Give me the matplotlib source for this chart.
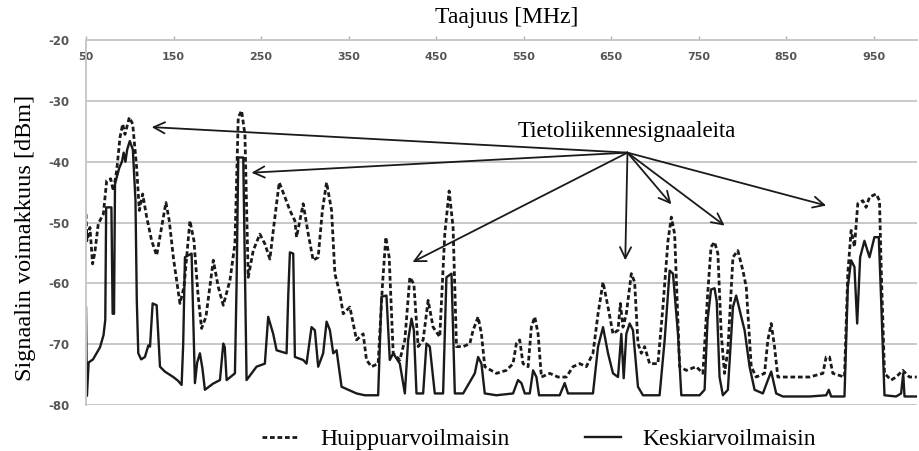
import numpy as np
import matplotlib
matplotlib.use("Agg")
import matplotlib.pyplot as plt

# Huippuarvoilmaisin (peak detector), dashed trace
f_peak = [50, 51, 54.5, 57.5, 60, 64, 69.8, 73.6, 78.2, 81.2, 85, 88.8, 91.9, 94.5, 99.5,
          103.3, 107.8, 110.9, 114.7, 119.3, 125, 130.7, 136, 141.3, 145.1, 150, 157.3,
          161.9, 168.7, 173.3, 178, 182, 187, 195.4, 201.1, 206.8, 214.4, 220.1, 223.9,
          227.7, 231.5, 235.3, 241, 248.6, 254.3, 260, 265, 270.7, 277.2, 282.9, 288.6,
          290.5, 298.1, 304, 309.5, 315.2, 320, 324.8, 330.5, 334.3, 340, 343.8, 351.4,
          359, 366.6, 370.4, 376.1, 383.7, 388.7, 392.5, 396.3, 400.9, 408.5, 414.2,
          419.9, 424.5, 429.4, 435.1, 440.8, 446.5, 454.1, 459.8, 464.8, 469.3, 473.2,
          480.8, 488.4, 492.2, 497.9, 501.7, 505.5, 518.8, 530.2, 537.8, 541.6, 545.4,
          549.2, 555, 558.7, 562.6, 566.4, 570.2, 579.7, 589.2, 598.7, 606.3, 614, 621.5,
          629.1, 634.9, 640.6, 646.3, 652, 657.7, 660.4, 663.4, 667.2, 672.9, 676.7,
          680.5, 684.3, 688.1, 693.8, 703.3, 709, 714.8, 718.6, 722.4, 728.1, 735.7,
          747.1, 754.7, 760, 764, 768, 771.8, 775.6, 779.4, 783.2, 789, 794.6, 800.4,
          804.2, 809.9, 815.6, 825.1, 828.9, 832.7, 836.5, 840.3, 857.4, 876.5, 891.7,
          895.5, 899.3, 903.1, 916.4, 920.2, 924, 927.8, 931.6, 937.3, 941.1, 945, 952.6,
          956.4, 958.3, 962.1, 969.7, 975.4, 983, 990.6, 999]
db_peak = [-48.6, -53, -50.8, -56.8, -55, -50.2, -48.6, -43.1, -42.8, -44.8, -41.5, -36,
           -33.8, -35.5, -32.7, -33.8, -40.9, -48, -45.3, -49.1, -53, -55.4, -51, -46.7,
           -49.7, -56, -63.3, -60.6, -49.7, -53, -62, -67.4, -65.5, -56.2, -60.6, -63.6,
           -59.5, -53.5, -32.7, -31.6, -35.5, -59, -54.6, -51.9, -53.5, -56, -50, -43.4,
           -45.8, -48, -49.7, -52.4, -46.9, -52, -56.2, -55.7, -48, -43.4, -48, -58.4,
           -61.7, -65, -63.9, -69.3, -68.3, -72.6, -73.7, -73.2, -60.1, -52.4, -55.7,
           -71.5, -72.6, -69.3, -59, -60.1, -70.4, -69.3, -62.8, -67.2, -68.8, -51.9,
           -44.8, -50.8, -70.4, -70.4, -69.9, -67.7, -65.5, -68.3, -73.7, -74.8, -74.3,
           -73.2, -69.9, -69.3, -73.2, -73.7, -67.2, -65.5, -68.3, -75.4, -74.8, -75.4,
           -75.4, -73.7, -73.2, -73.7, -71.5, -65, -59.8, -63.9, -68.3, -67.7, -63.3,
           -67.2, -65, -58.4, -59.8, -69.9, -71.5, -70.4, -73.2, -73.2, -63.9, -53,
           -49.1, -51.9, -73.7, -74.3, -73.7, -74.8, -62, -54, -53.2, -55.1, -68.3,
           -74.8, -71, -55.7, -54.6, -57.9, -60.6, -73.7, -75.4, -74.8, -69.3, -66.6,
           -70.4, -75.4, -75.4, -75.4, -74.8, -72.1, -72.1, -74.8, -75.4, -58.4, -51.3,
           -54, -46.9, -46.4, -47.5, -45.8, -45.3, -46.4, -57.3, -74.8, -75.9, -75.4,
           -74.3, -75.4, -75.4]

# Keskiarvoilmaisin (average detector), solid trace
f_avg = [50, 51, 53, 58, 62, 66, 70, 72, 73, 79, 80.4, 82, 83.1, 85, 88, 91, 93, 95, 97,
         100, 103.5, 106.5, 108, 109.7, 113, 117.3, 121.2, 123.1, 126.1, 130.7, 134.5,
         140, 149.7, 155, 159.2, 161, 163, 170.6, 174.4, 177, 180.1, 183, 185.8, 195,
         203, 206.8, 208.5, 210.6, 220.1, 222, 223.9, 229.6, 231.5, 233.4, 244.8, 254.3,
         258.1, 263.8, 267.7, 279.1, 281, 282.9, 286.7, 288.6, 298.1, 301.9, 307.6,
         311.4, 315.2, 320.9, 324.8, 328.6, 332.4, 336.2, 341.9, 359, 368.5, 383.7,
         387.5, 393.2, 397, 400.9, 408.5, 414.2, 418, 421.8, 424.5, 427.5, 435.1, 438.9,
         442.7, 448.4, 457.9, 461.7, 467.5, 471.3, 480.8, 494.1, 497.9, 501.7, 505.5,
         518.8, 537.8, 543.5, 547.4, 551.2, 556.9, 560.7, 564.5, 567.5, 591.1, 596.8,
         600.6, 629.1, 634.9, 640.6, 646.3, 652, 657.7, 661.5, 664.2, 667.2, 671, 674.8,
         680.5, 686.2, 705.2, 711, 716.7, 720.5, 726.2, 730, 750.9, 756.6, 760, 764,
         768, 770.5, 773.7, 777.5, 783.2, 789, 792.7, 798.5, 802.3, 808, 813.7, 823.2,
         828.9, 832.7, 838.4, 846, 876.5, 895.5, 898.5, 901.2, 916.4, 920.2, 924, 927.8,
         930.9, 934.3, 939.2, 945, 950.6, 955.6, 958.3, 962.1, 975.4, 981.1, 983.5, 985,
         999]
db_avg = [-64, -78.5, -73, -72.5, -71.5, -70.5, -68.5, -66, -47.5, -47.5, -65, -65, -43.7,
          -42.6, -41, -40, -38.5, -40, -38, -36.6, -38, -46.4, -62.8, -71.5, -72.5, -72.1,
          -70.2, -70.4, -63.3, -63.6, -73.7, -74.5, -75.4, -76, -76.7, -70, -55.7, -55.1,
          -76.4, -73, -71.5, -74, -77.5, -76.5, -75.9, -69.9, -70.5, -75.9, -74.8, -60,
          -39.3, -39.3, -58, -75.9, -73.7, -73.2, -65.5, -68.3, -71, -71.5, -62, -54.9,
          -55.1, -72.1, -72.6, -73.2, -67.2, -67.7, -73.7, -71.5, -66.3, -67.7, -71.5,
          -71, -77, -78.1, -78.4, -78.4, -62.2, -62, -72.6, -71.5, -73.2, -78.1, -69.3,
          -65.8, -67.7, -78.1, -78.1, -69.9, -70.4, -78.1, -78.1, -59, -58.4, -78.1,
          -78.1, -74.8, -72.1, -73.2, -78.1, -78.4, -78.1, -75.9, -76.4, -78.1, -78.1,
          -74.3, -75.4, -78.4, -78.4, -76.4, -78.1, -78.1, -70.4, -67.2, -71.5, -74.8,
          -75.4, -68.3, -75.6, -68.3, -66.6, -67.7, -77, -78.4, -78.4, -69.3, -57.9,
          -58.4, -68.3, -78.4, -78.4, -77.5, -66, -61, -60.8, -63, -75.4, -78.4, -77.5,
          -63.9, -62, -65.5, -67.7, -73.7, -77.5, -78.1, -75.9, -74.5, -78.1, -78.6,
          -78.6, -78.4, -77.5, -78.6, -78.6, -60.6, -56.2, -57.3, -66.6, -55.7, -53,
          -55.7, -52.4, -52.4, -62.8, -78.4, -78.6, -78.1, -74.8, -78.6, -78.6]

x_ticks = [50, 150, 250, 350, 450, 550, 650, 750, 850, 950]
y_ticks = [-80, -70, -60, -50, -40, -30, -20]

# annotation: one origin, several arrow tips (MHz, dBm)
note_text = (667.5, -35.0)
note_origin = (668.5, -38.5)
note_tips = [(125, -34.3), (239, -41.8), (423, -56.5), (666, -56.2),
             (718.6, -47), (779.5, -50.5), (895.5, -47.2)]

plt.rcParams["axes.unicode_minus"] = False
serif = "Liberation Serif"
ink = "#1a1a1a"
tick_grey = "#555555"

fig = plt.figure(figsize=(9.2, 4.51), dpi=100)
ax = fig.add_axes([0.0935, 0.102, 0.903, 0.809])

ax.plot(f_peak, db_peak, color=ink, lw=2.0, linestyle=(0, (1.7, 1.0)),
        label="Huippuarvoilmaisin")
ax.plot(f_avg, db_avg, color=ink, lw=1.7, label="Keskiarvoilmaisin")

ax.set_xlim(50, 999)
ax.set_ylim(-80, -20)
ax.set_yticks(y_ticks)
ax.set_xticks(x_ticks)
ax.grid(axis="y", color="#c8c8c8", lw=1.4)
ax.set_axisbelow(True)

for s in ["right", "bottom"]:
    ax.spines[s].set_visible(False)
for s in ["left", "top"]:
    ax.spines[s].set_color("#c8c8c8")
    ax.spines[s].set_linewidth(1.4)

# frequency labels sit just under the top line
ax.xaxis.tick_top()
ax.tick_params(axis="x", top=True, bottom=False, labeltop=True, labelbottom=False,
               direction="out", length=3, width=1, color="#b0b0b0", pad=-19,
               labelsize=8, labelcolor=tick_grey)
ax.tick_params(axis="y", length=0, pad=12, labelsize=8.5, labelcolor=tick_grey)
for lab in ax.get_xticklabels() + ax.get_yticklabels():
    lab.set_fontweight("bold")

fig.text(507 / 920, 1 - 17 / 451, "Taajuus [MHz]", ha="center", va="center",
         family=serif, fontsize=17)
fig.text(26 / 920, 1 - 238 / 451, "Signaalin voimakkuus [dBm]", ha="center",
         va="center", rotation=90, family=serif, fontsize=17.5)

ax.text(note_text[0], note_text[1], "Tietoliikennesignaaleita", ha="center",
        va="center", family=serif, fontsize=16.5)
for tip in note_tips:
    ax.annotate("", xy=tip, xytext=note_origin,
                arrowprops=dict(arrowstyle="->", lw=1.3, color=ink,
                                shrinkA=0, shrinkB=0, mutation_scale=20))

fig.legend(loc="center", bbox_to_anchor=(0.586, 0.025), ncol=2, frameon=False,
           prop={"family": serif, "size": 17}, handlelength=1.55,
           handletextpad=0.9, columnspacing=3.2)

fig.savefig("out.png", dpi=100)
